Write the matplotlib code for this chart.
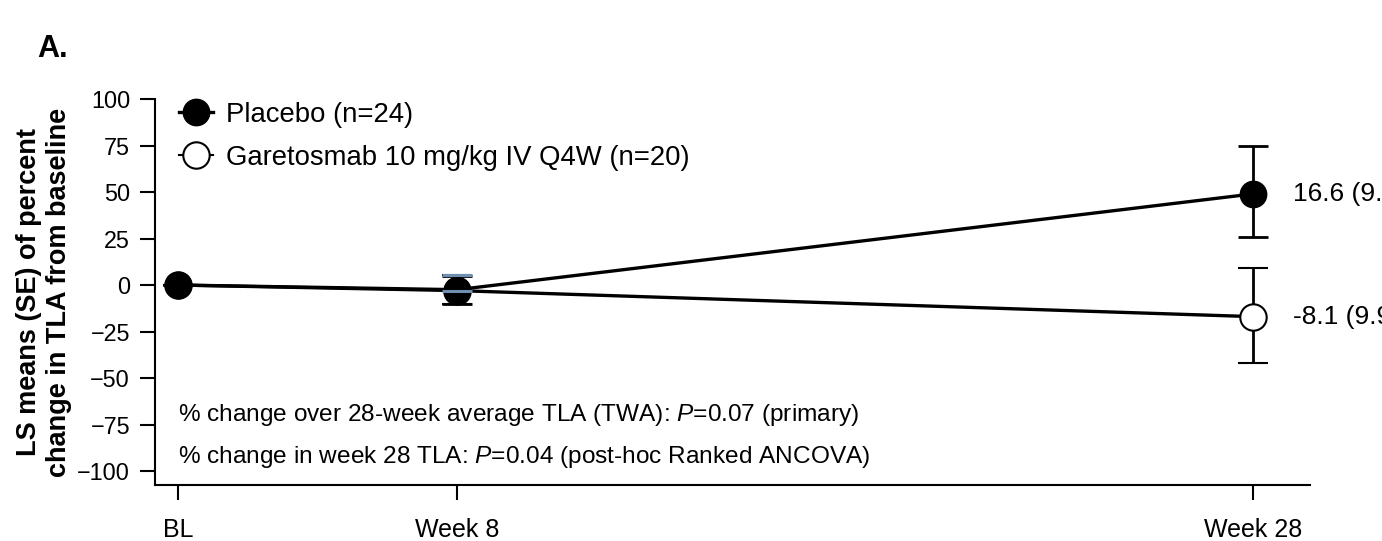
import numpy as np
import matplotlib
matplotlib.use("Agg")
import matplotlib.pyplot as plt
from matplotlib.lines import Line2D

plt.rcParams['font.family'] = ['Liberation Sans', 'DejaVu Sans']
plt.rcParams['mathtext.fontset'] = 'custom'
plt.rcParams['mathtext.it'] = 'Liberation Sans:italic'
plt.rcParams['mathtext.rm'] = 'Liberation Sans'

# ----------------------------------------------------------------------
# data
# ----------------------------------------------------------------------
visits = ['BL', 'Week 8', 'Week 28']
visit_pos = [0, 1, 3.85]          # horizontal spacing used in the original

placebo_mean = [0.0, -2.5, 49.0]
placebo_lo = [0.0, 7.5, 23.0]      # SE below
placebo_hi = [0.0, 7.5, 25.5]      # SE above

gareto_mean = [0.0, -3.0, -17.0]
gareto_lo = [0.0, 7.0, 25.0]
gareto_hi = [0.0, 8.5, 26.0]

placebo_label = 'Placebo (n=24)'
gareto_label = 'Garetosmab 10 mg/kg IV Q4W (n=20)'
end_labels = ['16.6 (9.5)', '-8.1 (9.9)']

yticks = [100, 75, 50, 25, 0, -25, -50, -75, -100]

# ----------------------------------------------------------------------
# plot
# ----------------------------------------------------------------------
fig = plt.figure(figsize=(13.82, 5.41), dpi=100)
ax = fig.add_axes([0.1122, 0.1035, 0.836, 0.7135])

ax.errorbar(visit_pos, gareto_mean, yerr=[gareto_lo, gareto_hi], color='black',
            lw=2.4, marker='o', ms=19, mfc='white', mec='black', mew=1.5,
            capsize=11, capthick=2, elinewidth=2, zorder=3)
ax.errorbar(visit_pos, placebo_mean, yerr=[placebo_lo, placebo_hi], color='black',
            lw=2.4, marker='o', ms=19, mfc='black', mec='black',
            capsize=11, capthick=2, elinewidth=2, zorder=4)
# bluish top cap seen at week 8
ax.errorbar(visit_pos[1], gareto_mean[1], yerr=[[0], [gareto_hi[1]]], fmt='none',
            ecolor='#6f8fb0', capsize=11, capthick=2.2, elinewidth=0, zorder=5)

ax.text(visit_pos[2] + 0.14, placebo_mean[2], end_labels[0], fontsize=19,
        va='center', ha='left')
ax.text(visit_pos[2] + 0.14, gareto_mean[2], end_labels[1], fontsize=19,
        va='center', ha='left')

ax.text(0.0, -70, '% change over 28-week average TLA (TWA): $\\it{P}$=0.07 (primary)',
        fontsize=17.6, va='center', ha='left')
ax.text(0.0, -92.5, '% change in week 28 TLA: $\\it{P}$=0.04 (post-hoc Ranked ANCOVA)',
        fontsize=17.6, va='center', ha='left')

handles = [
    Line2D([], [], color='black', lw=2.4, marker='o', ms=19, mfc='black', mec='black'),
    Line2D([], [], color='black', lw=1.5, marker='o', ms=19, mfc='white', mec='black',
           mew=1.5),
]
ax.legend(handles, [placebo_label, gareto_label], loc='upper left',
          bbox_to_anchor=(0.011, 1.022), frameon=False, fontsize=19.8,
          handlelength=1.25, handletextpad=0.45, labelspacing=0.62, borderaxespad=0.0)

ax.set_xlim(-0.082, 4.054)
ax.set_ylim(-107.5, 100)
ax.set_xticks(visit_pos)
ax.set_xticklabels(visits, fontsize=18)
ax.set_yticks(yticks)
ax.set_yticklabels([str(t).replace('-', '\u2212') for t in yticks], fontsize=16.8)
ax.tick_params(length=11, width=1.5)
ax.tick_params(axis='x', pad=13)
ax.tick_params(axis='y', pad=7)

for s in ['top', 'right']:
    ax.spines[s].set_visible(False)
ax.spines['left'].set_linewidth(1.5)
ax.spines['bottom'].set_linewidth(1.5)

ax.set_ylabel('LS means (SE) of percent\nchange in TLA from baseline',
              fontsize=19.5, fontweight='bold', linespacing=1.2)
ax.yaxis.set_label_coords(-0.0718, 0.5)

fig.text(0.027, 0.91, 'A.', fontsize=22, fontweight='bold', va='center')

fig.savefig('out.png', dpi=100)
